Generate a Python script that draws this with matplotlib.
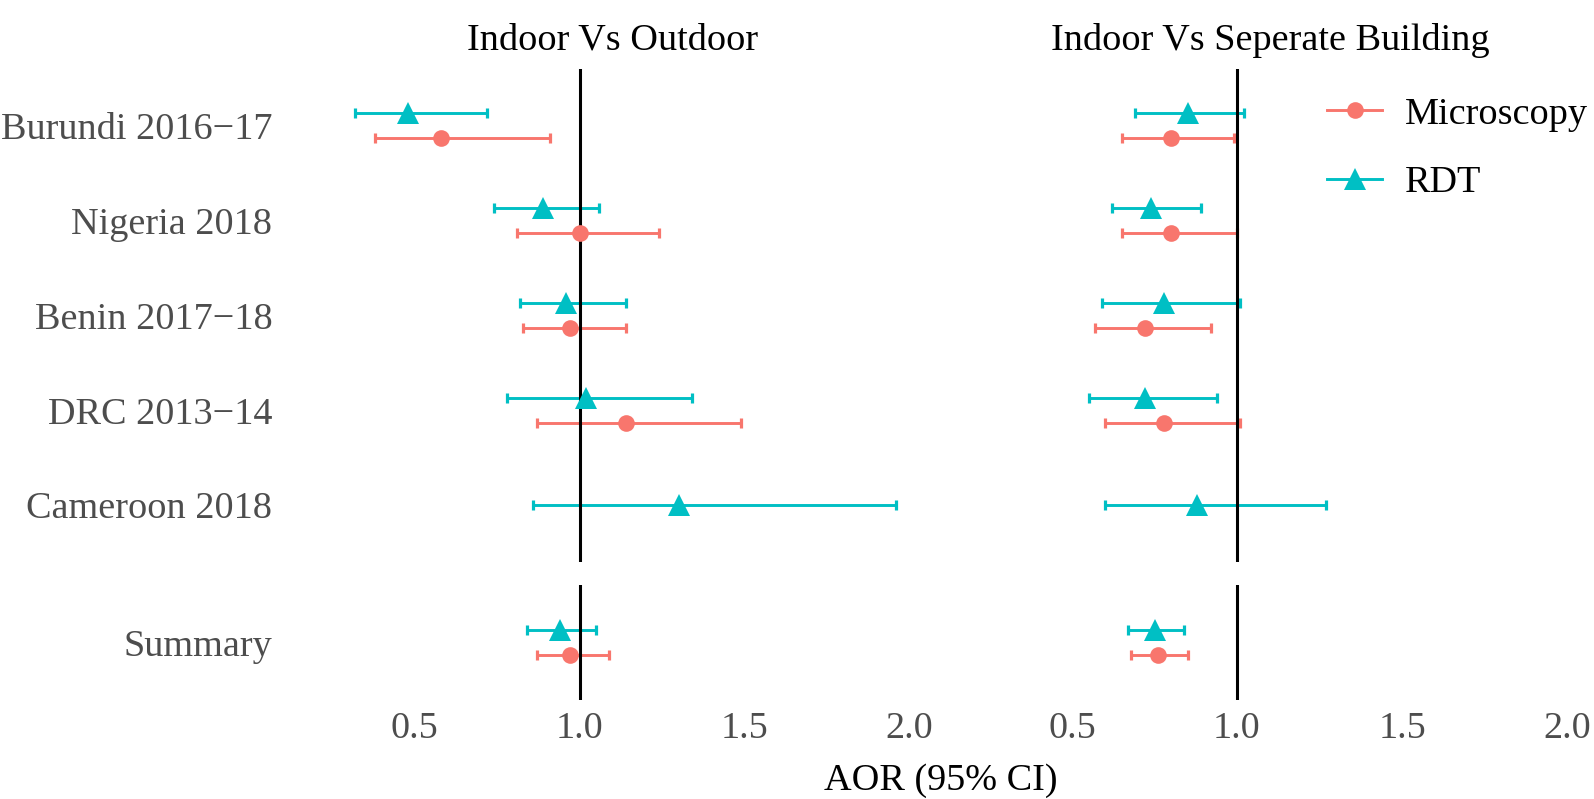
import numpy as np
import matplotlib
matplotlib.use("Agg")
import matplotlib.pyplot as plt
from matplotlib.lines import Line2D

plt.rcParams['font.family'] = ['Liberation Serif', 'DejaVu Serif']

countries = ["Burundi 2016\u221217", "Nigeria 2018", "Benin 2017\u221218", "DRC 2013\u221214", "Cameroon 2018"]
panels = ["Indoor Vs Outdoor", "Indoor Vs Seperate Building"]
nan = np.nan

# Indoor vs Outdoor
out_micro_or = [0.58, 1.00, 0.97, 1.14, nan]
out_micro_lo = [0.38, 0.81, 0.83, 0.87, nan]
out_micro_hi = [0.91, 1.24, 1.14, 1.49, nan]
out_rdt_or = [0.48, 0.89, 0.96, 1.02, 1.30]
out_rdt_lo = [0.32, 0.74, 0.82, 0.78, 0.86]
out_rdt_hi = [0.72, 1.06, 1.14, 1.34, 1.96]
out_sum_micro = [0.97, 0.87, 1.09]
out_sum_rdt = [0.94, 0.84, 1.05]

# Indoor vs Separate building
sep_micro_or = [0.80, 0.80, 0.72, 0.78, nan]
sep_micro_lo = [0.65, 0.65, 0.57, 0.60, nan]
sep_micro_hi = [0.99, 1.00, 0.92, 1.01, nan]
sep_rdt_or = [0.85, 0.74, 0.78, 0.72, 0.88]
sep_rdt_lo = [0.69, 0.62, 0.59, 0.55, 0.60]
sep_rdt_hi = [1.02, 0.89, 1.01, 0.94, 1.27]
sep_sum_micro = [0.76, 0.68, 0.85]
sep_sum_rdt = [0.75, 0.67, 0.84]

x_ticks = [0.5, 1.0, 1.5, 2.0]
x_ticklabels = ["0.5", "1.0", "1.5", "2.0"]

C_MICRO = "#F8766D"
C_RDT = "#00BFC4"
FS = 27.5
GREY = "#4D4D4D"
DODGE = 0.133
LW = 2.1
MS_C = 12
MS_T = 16

fig = plt.figure(figsize=(15.94, 7.99), dpi=100)
W = 594 / 1594
lefts = [315.5 / 1594, 973 / 1594]
top_b, top_h = (799 - 562) / 799, 493 / 799
bot_b, bot_h = (799 - 700) / 799, 115 / 799

def draw(ax, ys, vals, lo, hi, color, marker, ms):
    vals = np.asarray(vals, float); lo = np.asarray(lo, float); hi = np.asarray(hi, float)
    ys = np.asarray(ys, float)
    m = ~np.isnan(vals)
    ax.errorbar(vals[m], ys[m], xerr=[vals[m] - lo[m], hi[m] - vals[m]], fmt='none',
                ecolor=color, elinewidth=LW, capsize=3.3, capthick=2.3, zorder=2)
    ax.plot(vals[m], ys[m], linestyle='none', marker=marker, color=color, ms=ms,
            markeredgewidth=0, zorder=4)

data = [
    (out_micro_or, out_micro_lo, out_micro_hi, out_rdt_or, out_rdt_lo, out_rdt_hi, out_sum_micro, out_sum_rdt),
    (sep_micro_or, sep_micro_lo, sep_micro_hi, sep_rdt_or, sep_rdt_lo, sep_rdt_hi, sep_sum_micro, sep_sum_rdt),
]

n = len(countries)
ypos = np.arange(n)
for j, (mo, ml, mh, ro, rl, rh, sm, sr) in enumerate(data):
    axt = fig.add_axes([lefts[j], top_b, W, top_h])
    axb = fig.add_axes([lefts[j], bot_b, W, bot_h])
    has_micro = ~np.isnan(np.asarray(mo, float))
    y_rdt = np.where(has_micro, ypos - DODGE, ypos)
    y_mic = ypos + DODGE
    for ax in (axt, axb):
        ax.axvline(1.0, color='black', lw=2.2, zorder=3)
    draw(axt, y_rdt, ro, rl, rh, C_RDT, '^', MS_T)
    draw(axt, y_mic, mo, ml, mh, C_MICRO, 'o', MS_C)
    draw(axb, [-DODGE], [sr[0]], [sr[1]], [sr[2]], C_RDT, '^', MS_T)
    draw(axb, [DODGE], [sm[0]], [sm[1]], [sm[2]], C_MICRO, 'o', MS_C)
    axt.set_ylim(n - 1 + 0.6, -0.6)
    axb.set_ylim(0.6, -0.6)
    for ax in (axt, axb):
        ax.set_xlim(0.2, 2.0)
        for s in ax.spines.values():
            s.set_visible(False)
        ax.tick_params(length=0, labelsize=FS, labelcolor=GREY)
        ax.set_xticks(x_ticks)
    axt.set_xticklabels([])
    axb.set_xticklabels(x_ticklabels)
    axb.tick_params(axis='x', pad=8)
    if j == 0:
        axt.set_yticks(ypos)
        axt.set_yticklabels(countries)
        axb.set_yticks([0])
        axb.set_yticklabels(["Summary"])
        axt.tick_params(axis='y', pad=31)
        axb.tick_params(axis='y', pad=31)
    else:
        axt.set_yticks([])
        axb.set_yticks([])
    axt.set_title(panels[j], fontsize=FS, color='black', pad=14)

fig.text((315.5 + 1567) / 2 / 1594, 1 - 781 / 799, "AOR (95% CI)", fontsize=FS,
         ha='center', va='center', color='black')

handles = [Line2D([], [], color=C_MICRO, marker='o', ms=MS_C, lw=LW, markeredgewidth=0),
           Line2D([], [], color=C_RDT, marker='^', ms=MS_T, lw=LW, markeredgewidth=0)]
fig.legend(handles, ["Microscopy", "RDT"], loc='upper left', bbox_to_anchor=(1327 / 1594, 1 - 97 / 799),
           frameon=False, fontsize=FS, handlelength=1.45, handletextpad=0.6, labelspacing=0.88,
           borderpad=0, borderaxespad=0)

fig.savefig("out.png", dpi=100, facecolor='white')
